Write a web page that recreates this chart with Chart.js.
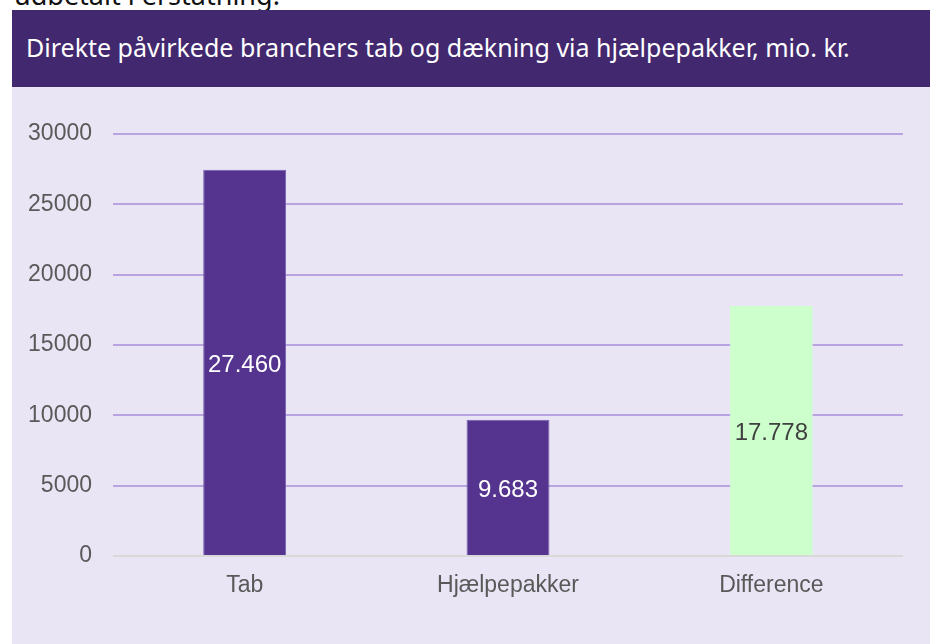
<!DOCTYPE html>
<html>
<head>
<meta charset="utf-8">
<script src="https://cdn.jsdelivr.net/npm/chart.js@4"></script>
<style>
  body { margin: 0; width: 930px; height: 644px; background: #fff; overflow: hidden; position: relative; }
  #lead { position: absolute; left: 14px; top: -24px; font: 27px "Noto Sans", sans-serif; color: #111; white-space: nowrap; }
  #head { position: absolute; left: 12px; top: 10px; width: 918px; height: 77px; background: #42286e; }
  #head span { position: absolute; left: 14px; top: 20px; font: 25px "Noto Sans", sans-serif; color: #fff; white-space: nowrap; }
  #panel { position: absolute; left: 12px; top: 87px; width: 918px; height: 557px; background: #e9e5f5; }
</style>
</head>
<body>
<div id="lead">udbetalt i erstatning.</div>
<div id="head"><span>Direkte påvirkede branchers tab og dækning via hjælpepakker, mio. kr.</span></div>
<div id="panel"><canvas id="chart" width="918" height="557"></canvas></div>
<script>
const categories = ['Tab', 'Hjælpepakker', 'Difference'];
const values = [27460, 9683, 17778];
const barColors = ['#55348f', '#55348f', '#ccffcc'];
const labelColors = ['#ffffff', '#ffffff', '#404040'];
const yTicks = [0, 5000, 10000, 15000, 20000, 25000, 30000];

const tickFont = { family: '"Liberation Sans", Arial, sans-serif', size: 23 };

// value labels in the middle of each bar, Danish thousands separator
const barLabels = {
    id: 'barLabels',
    afterDatasetsDraw(chart) {
        const ctx = chart.ctx;
        const meta = chart.getDatasetMeta(0);
        ctx.save();
        ctx.font = '24px "Liberation Sans", Arial, sans-serif';
        ctx.textAlign = 'center';
        ctx.textBaseline = 'middle';
        meta.data.forEach(function (bar, i) {
            const mid = (bar.y + bar.base) / 2;
            ctx.fillStyle = labelColors[i];
            ctx.fillText(values[i].toLocaleString('da-DK'), bar.x, mid + 3);
        });
        ctx.restore();
    }
};

new Chart(document.getElementById('chart'), {
    type: 'bar',
    data: {
        labels: categories,
        datasets: [{
            data: values,
            backgroundColor: barColors,
            borderColor: ['#7560b0', '#7560b0', '#ccffcc'],
            borderWidth: 1,
            categoryPercentage: 1,
            barPercentage: 0.315
        }]
    },
    options: {
        responsive: false,
        animation: false,
        layout: { padding: { top: 47, right: 27, left: 0, bottom: 0 } },
        plugins: { legend: { display: false }, tooltip: { enabled: false } },
        scales: {
            x: {
                grid: { display: false },
                border: { display: false },
                ticks: { color: '#595959', font: tickFont, padding: 8 },
                afterFit(scale) { scale.height = 88; }
            },
            y: {
                min: 0,
                max: 30000,
                afterBuildTicks(scale) { scale.ticks = yTicks.map(v => ({ value: v })); },
                grid: {
                    drawTicks: false,
                    lineWidth: 2,
                    color: c => c.tick && c.tick.value === 0 ? '#d9d9d9' : '#b9a3e0'
                },
                border: { display: false },
                ticks: { color: '#595959', font: tickFont, padding: 21, callback: v => String(v) },
                afterFit(scale) { scale.width = 101; }
            }
        }
    },
    plugins: [barLabels]
});
</script>
</body>
</html>
